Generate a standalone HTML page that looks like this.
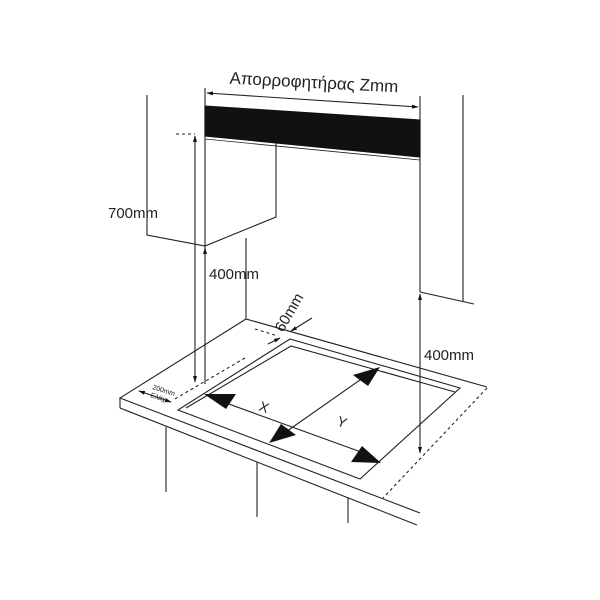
<!DOCTYPE html>
<html><head><meta charset="utf-8"><style>html,body{margin:0;padding:0;background:#fff}svg{display:block}</style></head><body>
<svg width="600" height="600" viewBox="0 0 600 600" xmlns="http://www.w3.org/2000/svg" font-family="Liberation Sans, DejaVu Sans, sans-serif">
<defs>
<marker id="a" viewBox="0 0 10 10" refX="9" refY="5" markerWidth="6" markerHeight="6" orient="auto-start-reverse"><path d="M0,2 L10,5 L0,8 z" fill="#111"/></marker>
</defs>
<g stroke="#222" stroke-width="1.1" fill="none">
<line x1="205" y1="88" x2="205" y2="384"/>
<line x1="420" y1="96" x2="420" y2="292"/>
<line x1="207" y1="93" x2="418" y2="107" marker-start="url(#a)" marker-end="url(#a)"/>
<polygon points="205,106 420,120 420,157 205,136" fill="#111" stroke="#111"/>
<line x1="205" y1="139" x2="420" y2="160" stroke-width="0.8"/>
<polyline points="147,95 147,235 205,246 276,217 276,143"/>
<line x1="176" y1="134" x2="195" y2="134" stroke-dasharray="3,3"/>
<line x1="195" y1="136" x2="195" y2="382" marker-start="url(#a)" marker-end="url(#a)"/>
<line x1="205" y1="248" x2="205" y2="250" marker-start="url(#a)"/>
<line x1="246" y1="238" x2="246" y2="319"/>
<line x1="463" y1="95" x2="463" y2="302"/>
<line x1="420" y1="292" x2="474" y2="304"/>
<line x1="420" y1="294" x2="420" y2="453" marker-start="url(#a)" marker-end="url(#a)"/>
<polyline points="487,387 246,319 120,398 420,513"/>
<line x1="120" y1="408" x2="417" y2="525"/>
<line x1="120" y1="398" x2="120" y2="408"/>
<line x1="487" y1="388" x2="383" y2="498" stroke-dasharray="3,3"/>
<line x1="166" y1="427" x2="166" y2="492"/>
<line x1="257" y1="462" x2="257" y2="517"/>
<line x1="348" y1="498" x2="348" y2="523"/>
<line x1="245" y1="358" x2="173" y2="400" stroke-dasharray="3,3"/>
<polygon points="290,339 460,388 360,479 178,410"/>
<polyline points="186,408 291,346 455,392"/>
<line x1="255" y1="329" x2="278" y2="336" stroke-dasharray="3,3"/>
<line x1="268" y1="344" x2="280" y2="338" marker-end="url(#a)"/>
<line x1="312" y1="318" x2="291" y2="331" marker-end="url(#a)"/>
<line x1="139" y1="391" x2="171" y2="402" marker-start="url(#a)" marker-end="url(#a)"/>
<line x1="215" y1="399" x2="372" y2="456"/>
<line x1="370" y1="373" x2="280" y2="436"/>
</g>
<g fill="#111">
<polygon points="204,394 236,394 226,409"/>
<polygon points="381,463 351,462 362,446"/>
<polygon points="380,367 368,386 353,375"/>
<polygon points="269,443 281,424 296,435"/>
</g>
<g fill="#222" font-size="14">
<text x="314" y="88" text-anchor="middle" font-size="17" transform="rotate(3 314 82)">Απορροφητήρας Zmm</text>
<text x="108" y="218" font-size="15">700mm</text>
<text x="209" y="279" font-size="15">400mm</text>
<text x="424" y="360" font-size="15">400mm</text>
<text x="0" y="0" font-size="15" transform="translate(283,333) rotate(-60)">60mm</text>
<text x="0" y="0" font-size="7" transform="translate(152,389) rotate(18)">200mm</text>
<text x="0" y="0" font-size="7" transform="translate(150,397) rotate(18)">Ελάχ</text>
<text x="0" y="0" font-size="14" transform="translate(258,410) rotate(20)">X</text>
<text x="0" y="0" font-size="14" transform="translate(336,425) rotate(20)">Y</text>
</g>
</svg>
</body></html>
